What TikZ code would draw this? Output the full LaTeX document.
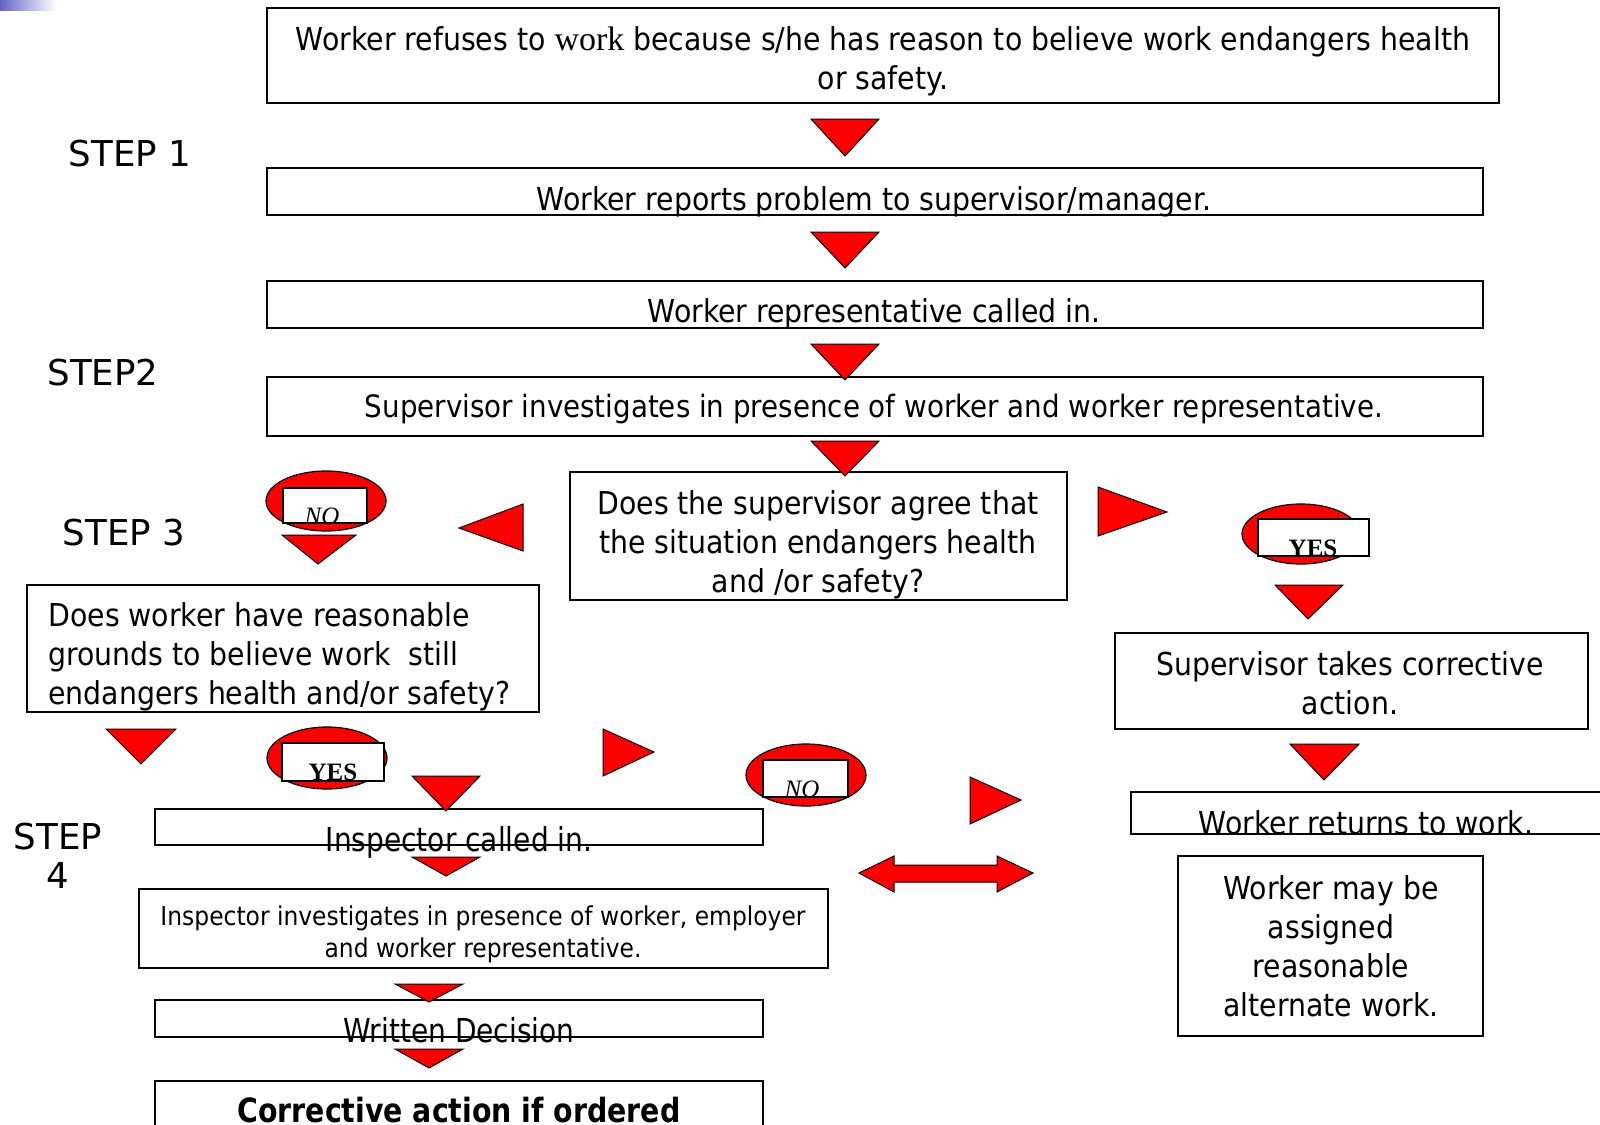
\documentclass[tikz,border=0pt]{standalone}
\usepackage{fontspec}
\setmainfont{DejaVu Sans}[FakeStretch=0.9]
\newfontfamily\stepfont{DejaVu Sans}
\newfontfamily\timesf{Liberation Serif}
\newfontfamily\narrowf{DejaVu Sans}[FakeStretch=0.85]
\usetikzlibrary{shapes.geometric,fit}
\definecolor{pptred}{RGB}{255,0,0}
\definecolor{stripblue}{RGB}{100,100,200}
\begin{document}
\begin{tikzpicture}[x=0.5pt,y=-0.5pt,
  box/.style={draw=black, line width=1pt, inner sep=0pt, rectangle},
  tri/.style={fill=pptred, draw=black, line width=0.5pt, line join=miter},
  oval/.style={ellipse, fill=pptred, draw=black, line width=0.6pt, inner sep=0pt},
  lbl/.style={fill=white, draw=black, line width=1pt, inner sep=0pt, rectangle},
  txt/.style={inner sep=0pt, align=center, font=\fontsize{15.75}{19.5}\selectfont},
  smalltxt/.style={inner sep=0pt, align=center, font=\fontsize{13}{16}\selectfont},
  narrowtxt/.style={inner sep=0pt, align=center, font=\narrowf\fontsize{16.5}{18}\selectfont},
  steptxt/.style={inner sep=0pt, align=center, font=\stepfont\fontsize{17.8}{19.5}\selectfont},
  yestxt/.style={inner sep=0pt, font=\timesf\bfseries\fontsize{12.5}{14}\selectfont},
  notxt/.style={inner sep=0pt, font=\timesf\itshape\fontsize{12.5}{14}\selectfont}
]
\useasboundingbox (0,0) rectangle (1600,1124);
\shade[left color=stripblue, right color=white] (0,0) rectangle (56,10);

% ---- boxes ----
\node[box, fit={(267,8) (1499,103)}] (b1) {};
\node[box, fit={(267,168) (1483,215)}] (b2) {};
\node[box, fit={(267,281) (1483,328)}] (b3) {};
\node[box, fit={(267,377) (1483,436)}] (b4) {};
\node[box, fit={(570,472) (1067,600)}] (b5) {};
\node[box, fit={(27,585) (539,712)}] (bq) {};
\node[box, fit={(1115,633) (1588,729)}] (bc) {};
\node[box, fit={(1131,792) (1620,834)}] (br) {};
\node[box, fit={(1178,856) (1483,1036)}] (ba) {};
\node[box, fit={(155,809) (763,845)}] (bi) {};
\node[box, fit={(139,889) (828,968)}] (bv) {};
\node[box, fit={(155,1000) (763,1037)}] (bw) {};
\node[box, fit={(155,1081) (763,1150)}] (bo) {};

% ---- texts ----
\node[txt] (t1) at (883,61) {Worker refuses to {\timesf\fontsize{17}{19.5}\selectfont work} because s/he has reason to believe work endangers health\\or safety.};
\node[txt] (t2) at (874,202) {Worker reports problem to supervisor/manager.};
\node[txt] (t3) at (874,314) {Worker representative called in.};
\node[txt, font=\fontsize{15.4}{19.5}\selectfont] (t4) at (874,409) {Supervisor investigates in presence of worker and worker representative.};
\node[txt] (t5) at (818,545) {Does the supervisor agree that\\the situation endangers health\\and /or safety?};
\node[txt, align=left, anchor=west] (tq) at (48,657) {Does worker have reasonable\\grounds to believe work\ \ still\\endangers health and/or safety?};
\node[txt] (tc) at (1350,683) {Supervisor takes corrective\\action.};
\node[txt] (tr) at (1366,823) {Worker returns to work.};
\node[txt] (ta) at (1331,946) {Worker may be\\assigned\\reasonable\\alternate work.};
\node[narrowtxt] (ti) at (459,842) {Inspector called in.};
\node[smalltxt] (tv) at (483,934) {Inspector investigates in presence of worker, employer\\and worker representative.};
\node[narrowtxt] (tw) at (459,1030) {Written Decision};
\node[narrowtxt, font=\narrowf\bfseries\fontsize{16.7}{18}\selectfont] (to) at (459,1110) {Corrective action if ordered};

% ---- step labels ----
\node[steptxt] (s1) at (130,154) {STEP 1};
\node[steptxt] (s2) at (103,373) {STEP2};
\node[steptxt] (s3) at (124,533) {STEP 3};
\node[steptxt] (s4) at (58,856) {STEP\\4};

% ---- down triangles ----
\filldraw[tri] (811,119) -- (879,119) -- (845,156) -- cycle;
\filldraw[tri] (811,232) -- (879,232) -- (845,268) -- cycle;
\filldraw[tri] (811,344) -- (879,344) -- (845,380) -- cycle;
\filldraw[tri] (811,441) -- (879,441) -- (845,476) -- cycle;
\filldraw[tri] (282,535) -- (356,535) -- (318,564) -- cycle;
\filldraw[tri] (1275,585) -- (1343,585) -- (1308,619) -- cycle;
\filldraw[tri] (1290,744) -- (1359,744) -- (1324,780) -- cycle;
\filldraw[tri] (106,729) -- (176,729) -- (141,764) -- cycle;
\filldraw[tri] (412,776) -- (480,776) -- (446,811) -- cycle;
\filldraw[tri] (412,857) -- (480,857) -- (446,876) -- cycle;
\filldraw[tri] (395,984) -- (463,984) -- (429,1002) -- cycle;
\filldraw[tri] (395,1049) -- (463,1049) -- (429,1068) -- cycle;
% ---- side triangles ----
\filldraw[tri] (523,504) -- (523,551) -- (459,528) -- cycle;
\filldraw[tri] (1098,487) -- (1098,536) -- (1167,512) -- cycle;
\filldraw[tri] (603,729) -- (603,776) -- (654,752) -- cycle;
\filldraw[tri] (970,777) -- (970,824) -- (1021,800) -- cycle;
% ---- double arrow ----
\filldraw[tri] (859,873) -- (894,856) -- (894,865) -- (997,865) -- (997,856) -- (1033,873)
  -- (997,892) -- (997,882) -- (894,882) -- (894,892) -- cycle;

% ---- ovals with labels ----
\node[oval, minimum width=60pt, minimum height=30pt] (e1) at (326,501) {};
\node[lbl, fit={(283,488) (367,523)}] (r1) {};
\node[notxt] (n1) at (322,516) {NO};

\node[oval, minimum width=59pt, minimum height=30pt] (e2) at (1301,534) {};
\node[lbl, fit={(1258,519) (1369,556)}] (r2) {};
\node[yestxt] (y2) at (1313,548) {YES};

\node[oval, minimum width=60pt, minimum height=31pt] (e3) at (327,758) {};
\node[lbl, fit={(282,743) (384,781)}] (r3) {};
\node[yestxt] (y3) at (333,772) {YES};

\node[oval, minimum width=60pt, minimum height=31pt] (e4) at (806,775) {};
\node[lbl, fit={(763,760) (848,797)}] (r4) {};
\node[notxt] (n4) at (802,789) {NO};
\end{tikzpicture}
\end{document}
